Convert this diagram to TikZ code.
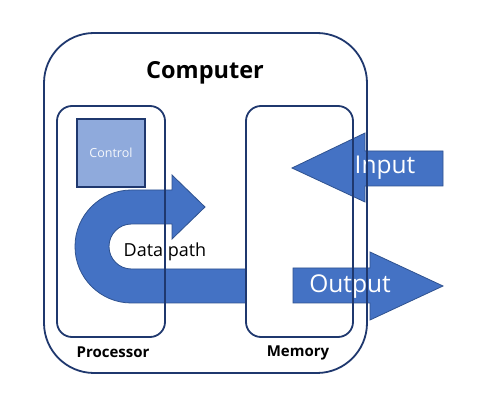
\documentclass[tikz,border=0pt]{standalone}
\usepackage{fontspec}
\setmainfont{Open Sans}
\definecolor{boxline}{RGB}{31,56,110}
\definecolor{arrowfill}{RGB}{68,114,196}
\definecolor{arrowline}{RGB}{47,82,143}
\definecolor{ctrlfill}{RGB}{143,170,220}

\begin{document}
\begin{tikzpicture}[x=1pt,y=-1pt,
	unitbox/.style={draw=boxline,line width=1.8pt,rounded corners=15pt},
	bigarrow/.style={fill=arrowfill,draw=arrowline,line width=0.8pt},
	boxlabel/.style={font=\bfseries\fontsize{15}{15}\selectfont}]
	
	\useasboundingbox (0,0) rectangle (491,409);
	
	\fill[white] (0,0) rectangle (491,409);
	
	\draw[bigarrow] (246,269) -- (131.5,269) arc[start angle=90,end angle=270,radius=22.5] -- (172,224) -- (172,239) -- (205,207) -- (172,175) -- (172,190) -- (131.5,190) arc[start angle=270,end angle=90,radius=56.5] -- (246,303);
	
	\draw[bigarrow] (443,151) -- (365,151) -- (365,133) -- (292,168) -- (365,202) -- (365,186) -- (443,186) -- cycle;
	
	\draw[bigarrow] (293,268) -- (370,268) -- (370,252) -- (443,286) -- (370,320) -- (370,303) -- (293,303) -- cycle;
	
	\node[font=\fontsize{18}{18}\selectfont] (datapath) at (165,252) {Data path};
	
	\node[text=white,font=\fontsize{24.5}{24.5}\selectfont] (input) at (385,168) {Input};
	
	\node[text=white,font=\fontsize{24.5}{24.5}\selectfont] (output) at (350,287) {Output};
	
	\node[unitbox,rounded corners=50pt,minimum width=323pt,minimum height=340pt] (computer) at (205.5,203) {};
	
	\node[unitbox,minimum width=108pt,minimum height=231pt] (processor) at (111,221.5) {};
	
	\node[unitbox,minimum width=107pt,minimum height=231pt] (memory) at (299.5,221.5) {};
	
	\node[draw=boxline,line width=1.8pt,fill=ctrlfill,minimum size=68pt,text=white!92!ctrlfill,font=\fontsize{12.5}{12.5}\selectfont] (control) at (111,153) {Control};
	
	\node[font=\bfseries\fontsize{23.5}{23.5}\selectfont] (computerlabel) at (205,73) {Computer};
	
	\node[boxlabel] (processorlabel) at (113,352) {Processor};
	
	\node[boxlabel] (memorylabel) at (298,353) {Memory};
\end{tikzpicture}
\end{document}
